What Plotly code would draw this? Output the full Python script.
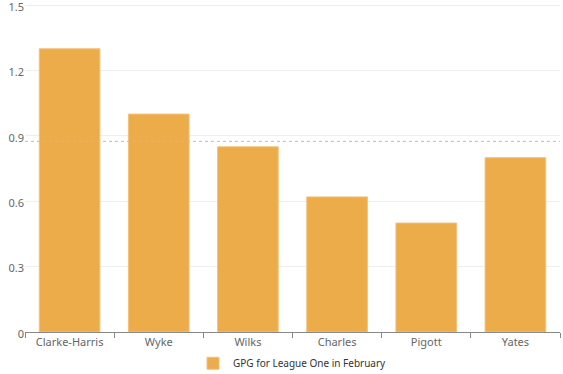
import plotly.graph_objects as go

players = ["Clarke-Harris", "Wyke", "Wilks", "Charles", "Pigott", "Yates"]
gpg = [1.3, 1.0, 0.85, 0.62, 0.5, 0.8]
series_name = "GPG for League One in February"
mark_line_value = 0.875
y_ticks = [0, 0.3, 0.6, 0.9, 1.2, 1.5]

fig = go.Figure()
fig.add_trace(go.Bar(
    x=players, y=gpg, name=series_name,
    marker=dict(color="#ECAC4A", line=dict(color="#F2C27A", width=1)),
))
fig.add_shape(type="line", xref="paper", x0=0, x1=1, yref="y",
              y0=mark_line_value, y1=mark_line_value,
              line=dict(color="#BBBBBB", width=1, dash="dot"))

fig.update_layout(
    width=563, height=374,
    margin=dict(l=25, r=3, t=3, b=42, autoexpand=False),
    plot_bgcolor="white", paper_bgcolor="white",
    bargap=0.32,
    font=dict(family="Noto Sans, Open Sans, sans-serif", size=11, color="#666666"),
    showlegend=True,
    legend=dict(orientation="h", x=0.5, xanchor="center", y=-0.095, yanchor="middle",
                font=dict(size=10, color="#333333")),
)
fig.update_xaxes(showline=True, linecolor="#888888", linewidth=1, automargin=False,
                 ticks="outside", tickson="boundaries", ticklen=5, tickcolor="#888888",
                 showgrid=False)
fig.update_yaxes(range=[0, 1.51], tickvals=y_ticks, showgrid=True, gridcolor="#EEEEEE",
                 automargin=False, zeroline=False, showline=False, ticks="",
                 ticklabeloverflow="allow", ticklabelshift=2)

fig.write_html("out.html", config={"displayModeBar": False},
               post_script="document.body.style.margin='0';document.body.style.overflow='hidden';")
